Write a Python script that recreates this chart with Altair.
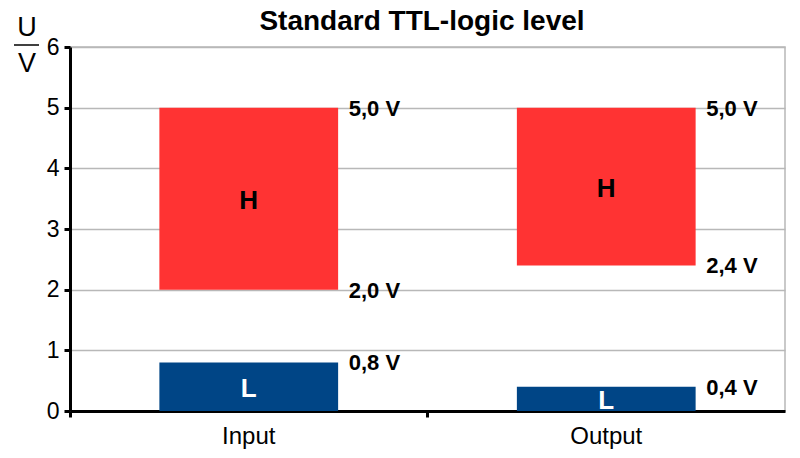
import altair as alt
import pandas as pd

categories = ["Input", "Input", "Output", "Output"]
levels = ["H", "L", "H", "L"]
lows = [2.0, 0.0, 2.4, 0.0]
highs = [5.0, 0.8, 5.0, 0.4]
bar_colors = ["#ff3333", "#004586", "#ff3333", "#004586"]
text_colors = ["#000000", "#ffffff", "#000000", "#ffffff"]

label_cats = ["Input", "Input", "Input", "Output", "Output", "Output"]
label_vals = [5.0, 2.0, 0.8, 5.0, 2.4, 0.4]
label_texts = ["5,0 V", "2,0 V", "0,8 V", "5,0 V", "2,4 V", "0,4 V"]

y_ticks = [0, 1, 2, 3, 4, 5, 6]
title_text = "Standard TTL-logic level"

bars_df = pd.DataFrame({"cat": categories, "level": levels, "low": lows,
                        "high": highs, "color": bar_colors, "tcolor": text_colors})
labels_df = pd.DataFrame({"cat": label_cats, "val": label_vals, "txt": label_texts})

FONT = "Liberation Sans"

xscale = alt.Scale(domain=["Input", "Output"], paddingInner=0, paddingOuter=0)
yscale = alt.Scale(domain=[0, 6], nice=False, zero=True)

xaxis = alt.Axis(title=None, bandPosition=0, labelOffset=0, labelFontSize=24,
                 labelFont=FONT, labelColor="#000", labelPadding=7, domainColor="#000",
                 domainWidth=3, tickColor="#000", tickWidth=3, tickSize=6, grid=False,
                 labelAngle=0)
yaxis = alt.Axis(title=None, values=y_ticks, format="d", labelFontSize=23, labelFont=FONT,
                 labelColor="#000", labelPadding=5, domainColor="#000", domainWidth=3,
                 tickColor="#000", tickWidth=3, tickSize=6, grid=True,
                 gridColor="#b8b8b8", gridWidth=1.5)

base = alt.Chart(bars_df)

bars = base.mark_bar(width=alt.RelativeBandSize(0.5)).encode(
    x=alt.X("cat:N", scale=xscale, axis=xaxis),
    y=alt.Y("low:Q", scale=yscale, axis=yaxis),
    y2="high:Q",
    color=alt.Color("color:N", scale=None, legend=None),
)

level_text = base.transform_calculate(mid="(datum.low + datum.high) / 2").mark_text(
    font=FONT, fontSize=26, fontWeight="bold", baseline="middle", align="center", dy=2
).encode(
    x=alt.X("cat:N", scale=xscale),
    y=alt.Y("mid:Q", scale=yscale),
    text="level:N",
    color=alt.Color("tcolor:N", scale=None, legend=None),
)

value_text = alt.Chart(labels_df).mark_text(
    font=FONT, fontSize=22, fontWeight="bold", baseline="middle", align="left",
    dx=100, dy=1, color="#000"
).encode(
    x=alt.X("cat:N", scale=xscale),
    y=alt.Y("val:Q", scale=yscale),
    text="txt:N",
)

title_mark = alt.Chart(pd.DataFrame({"t": [title_text]})).mark_text(
    font=FONT, fontSize=28, fontWeight="bold", align="center", baseline="middle", color="#000"
).encode(x=alt.value(352), y=alt.value(-25), text="t:N")

unit_u = alt.Chart(pd.DataFrame({"t": ["U"]})).mark_text(
    font=FONT, fontSize=27, align="center", baseline="middle", color="#000"
).encode(x=alt.value(-43), y=alt.value(-19), text="t:N")
unit_v = alt.Chart(pd.DataFrame({"t": ["V"]})).mark_text(
    font=FONT, fontSize=27, align="center", baseline="middle", color="#000"
).encode(x=alt.value(-43), y=alt.value(17), text="t:N")
frac = alt.Chart(pd.DataFrame({"t": [0]})).mark_rule(color="#000", strokeWidth=1.5).encode(
    x=alt.value(-56), x2=alt.value(-31), y=alt.value(-2)
)

chart = alt.layer(bars, level_text, value_text, title_mark, unit_u, unit_v, frac).properties(
    width=715, height=364,
    autosize=alt.AutoSizeParams(type="none"),
    padding={"left": 70, "top": 47, "right": 15, "bottom": 47},
    background="white",
).configure_view(stroke="#b8b8b8", strokeWidth=1.5)

chart.save("out.html", embed_options={"renderer": "svg", "actions": False})
